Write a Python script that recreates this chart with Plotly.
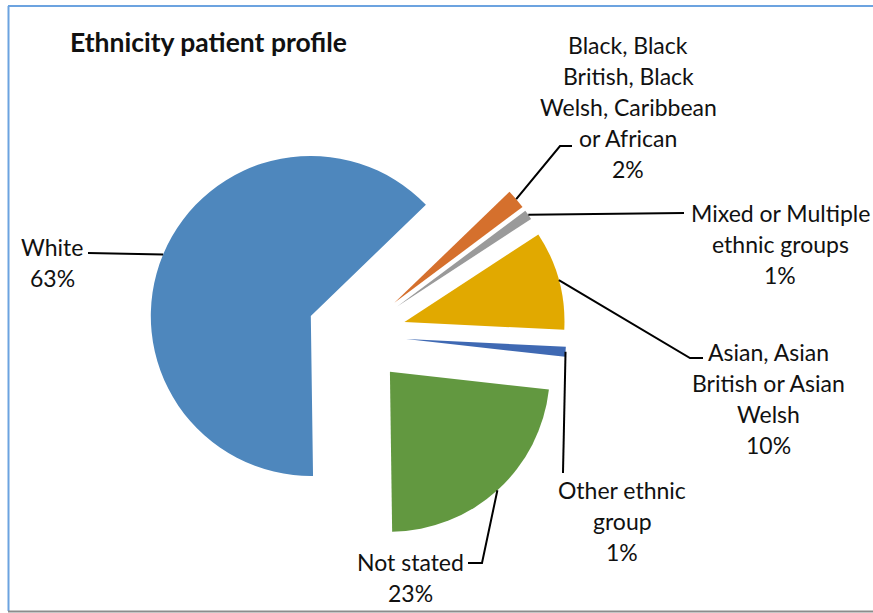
import math
import plotly.graph_objects as go

W, H = 873, 613

# Ethnicity shares (percent of patients), listed clockwise from the top-right
groups = [
    "Black, Black British, Black Welsh, Caribbean or African",
    "Mixed or Multiple ethnic groups",
    "Asian, Asian British or Asian Welsh",
    "Other ethnic group",
    "Not stated",
    "White",
]
shares = [2, 1, 10, 1, 23, 63]
colors = ["#D5702D", "#9A9A9A", "#E1A900", "#3F69B3", "#629840", "#4E87BD"]

# Wrapped category names used in the data labels
name_lines = [
    ["Black, Black", "British, Black", "Welsh, Caribbean", "or African"],
    ["Mixed or Multiple", "ethnic groups"],
    ["Asian, Asian", "British or Asian", "Welsh"],
    ["Other ethnic", "group"],
    ["Not stated"],
    ["White"],
]

# Pie geometry (pixels)
CX, CY = 356.6, 335.0
R = 160.0
PULL = 0.31
ROT = 46.0

# Label placement: centre x, y of first line, and the leader elbow points
label_pos = [
    (628, 45), (780, 213), (768, 352), (622, 490), (410, 562), (52, 247),
]
leader_tail = [
    [(560, 146), (572, 146)],
    [(684, 213)],
    [(690, 358), (703, 358)],
    [(563, 473)],
    [(482, 563), (468, 563)],
    [(88, 253)],
]

FONT = "Lato, Carlito, Calibri, sans-serif"
FS = 23
LINE_H = 31


def px(x):
    return x / W


def py(y):
    return 1 - y / H


half = R * (1 + PULL)
fig = go.Figure(
    go.Pie(
        labels=groups,
        values=shares,
        sort=False,
        direction="clockwise",
        rotation=ROT,
        pull=[PULL] * len(shares),
        marker=dict(colors=colors, line=dict(width=0)),
        textinfo="none",
        hoverinfo="label+percent",
        showlegend=False,
        domain=dict(
            x=[px(CX - half), px(CX + half)],
            y=[py(CY + half), py(CY - half)],
        ),
    )
)

shapes = []
annotations = []
total = sum(shares)
cum = 0.0
for i, v in enumerate(shares):
    theta = math.radians(ROT + 360.0 * (cum + v / 2.0) / total)
    cum += v
    sx = CX + R * (1 + PULL) * math.sin(theta)
    sy = CY - R * (1 + PULL) * math.cos(theta)
    pts = [(sx, sy)] + leader_tail[i]
    path = "M " + " L ".join(f"{px(x):.5f},{py(y):.5f}" for x, y in pts)
    shapes.append(dict(type="path", xref="paper", yref="paper", path=path,
                       line=dict(color="#000000", width=2)))
    lines = name_lines[i] + [f"{v}%"]
    lx, ly = label_pos[i]
    for k, t in enumerate(lines):
        annotations.append(dict(
            text=t, x=px(lx), y=py(ly + k * LINE_H), xref="paper", yref="paper",
            xanchor="center", yanchor="middle", showarrow=False,
            font=dict(family=FONT, size=FS, color="#111111"),
        ))

# Chart title
annotations.append(dict(
    text="<b>Ethnicity patient profile</b>", x=px(68), y=py(42),
    xref="paper", yref="paper", xanchor="left", yanchor="middle",
    showarrow=False, font=dict(family=FONT, size=26.5, color="#111111"),
))

# Chart frame
shapes += [
    dict(type="line", xref="paper", yref="paper", x0=px(8.5), x1=px(8.5),
         y0=py(6), y1=py(611), line=dict(color="#6CA3E0", width=2)),
    dict(type="line", xref="paper", yref="paper", x0=px(8), x1=px(873),
         y0=py(6), y1=py(6), line=dict(color="#6CA3E0", width=2)),
    dict(type="line", xref="paper", yref="paper", x0=px(8), x1=px(873),
         y0=py(611.5), y1=py(611.5), line=dict(color="#8C8C8C", width=2)),
]

fig.update_layout(
    width=W, height=H,
    margin=dict(l=0, r=0, t=0, b=0),
    paper_bgcolor="white", plot_bgcolor="white",
    shapes=shapes, annotations=annotations,
)

fig.write_html("out.html")
